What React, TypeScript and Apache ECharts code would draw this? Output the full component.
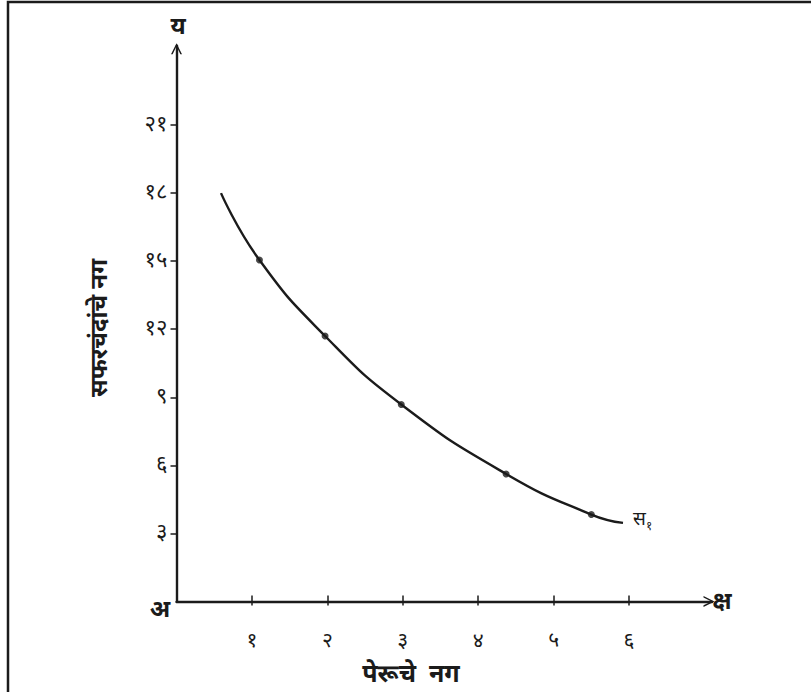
import React, { useEffect, useRef } from "react";
import * as echarts from "echarts";

// Data
const xTickValues = [1, 2, 3, 4, 5, 6];
const yTickValues = [3, 6, 9, 12, 15, 18, 21];
// indifference-curve points (guavas, apples) marked with dots
const pointX = [1.1, 1.97, 2.98, 4.37, 5.5];
const pointY = [15.05, 11.7, 8.68, 5.62, 3.83];
// free ends of the drawn curve
const curveStart = [0.59, 18.0];
const curveEnd = [5.92, 3.46];

const xAxisTitle = "पेरूचे  नग";
const yAxisTitle = "सफरचंदांचे नग";
const originLabel = "अ";
const xArrowLabel = "क्ष";
const yArrowLabel = "य";
const curveLabel = "स";
const curveSub = "१";

const DEV = "०१२३४५६७८९";
const toDev = (v: number | string) =>
  String(v).replace(/[0-9]/g, (d) => DEV[Number(d)]);

const FONT = "'Noto Sans Devanagari', 'Noto Sans', 'DejaVu Sans', sans-serif";
const INK = "#1b1b1b";
const CHEVRON = "path://M0,10 L5,0 L10,10 L8.5,10 L5,2.8 L1.5,10 Z";

export default function App() {
  const ref = useRef<HTMLDivElement>(null);
  useEffect(() => {
    if (!ref.current) return;
    const chart = echarts.init(ref.current, null, { renderer: "svg" });
    const curve = [
      curveStart,
      ...pointX.map((x, i) => [x, pointY[i]]),
      curveEnd,
    ];
    const dots = pointX.map((x, i) => [x, pointY[i]]);
    const axisBase = {
      type: "value" as const,
      min: 0,
      splitLine: { show: false },
    };
    chart.setOption({
      animation: false,
      backgroundColor: "#ffffff",
      grid: { left: 176.5, right: 99, top: 45.7, bottom: 90.6 },
      xAxis: [
        {
          ...axisBase,
          max: 7.1,
          axisLine: {
            show: true,
            onZero: false,
            lineStyle: { color: INK, width: 2.4 },
            symbol: ["none", CHEVRON],
            symbolSize: [13, 11],
            symbolOffset: [0, -3],
          },
          axisTick: {
            show: true,
            length: 4,
            lineStyle: { color: INK, width: 1.5 },
            customValues: xTickValues,
          },
          axisLabel: {
            show: true,
            margin: 30,
            fontSize: 21,
            fontFamily: FONT,
            color: INK,
            customValues: xTickValues,
            formatter: (v: number) => toDev(v),
          },
        },
        {
          ...axisBase,
          max: 7.1,
          position: "bottom",
          axisLine: { show: false },
          axisTick: {
            show: true,
            inside: true,
            length: 6,
            lineStyle: { color: INK, width: 1.5 },
            customValues: xTickValues,
          },
          axisLabel: { show: false },
        },
      ],
      yAxis: {
        ...axisBase,
        max: 24.5,
        axisLine: {
          show: true,
          onZero: false,
          lineStyle: { color: INK, width: 2.4 },
          symbol: ["none", CHEVRON],
          symbolSize: [13, 11],
          symbolOffset: [0, -3],
        },
        axisTick: {
          show: true,
          length: 6,
          lineStyle: { color: INK, width: 1.5 },
          customValues: yTickValues,
        },
        axisLabel: {
          show: true,
          margin: 9,
          fontSize: 22,
          fontFamily: FONT,
          color: INK,
          customValues: yTickValues,
          formatter: (v: number) => toDev(v),
        },
      },
      series: [
        {
          type: "line",
          data: curve,
          smooth: 0.5,
          showSymbol: false,
          lineStyle: { color: INK, width: 2.4 },
          silent: true,
        },
        {
          type: "scatter",
          data: dots,
          symbolSize: 7,
          itemStyle: { color: INK },
          silent: true,
        },
      ],
      graphic: [
        {
          type: "rect",
          shape: { x: 8, y: 2, width: 900, height: 800 },
          style: { fill: "none", stroke: INK, lineWidth: 2.5 },
          silent: true,
        },
        {
          type: "text",
          x: 178,
          y: 28,
          style: {
            text: yArrowLabel,
            font: `bold 24px ${FONT}`,
            fill: INK,
            align: "center",
            verticalAlign: "middle",
          },
        },
        {
          type: "text",
          x: 722,
          y: 603,
          style: {
            text: xArrowLabel,
            font: `bold 24px ${FONT}`,
            fill: INK,
            align: "center",
            verticalAlign: "middle",
          },
        },
        {
          type: "text",
          x: 160,
          y: 611,
          style: {
            text: originLabel,
            font: `bold 24px ${FONT}`,
            fill: INK,
            align: "center",
            verticalAlign: "middle",
          },
        },
        {
          type: "text",
          x: 411,
          y: 676,
          style: {
            text: xAxisTitle,
            font: `bold 25px ${FONT}`,
            fill: INK,
            align: "center",
            verticalAlign: "middle",
          },
        },
        {
          type: "text",
          x: 101,
          y: 328,
          rotation: Math.PI / 2,
          style: {
            text: yAxisTitle,
            font: `bold 24px ${FONT}`,
            fill: INK,
            align: "center",
            verticalAlign: "middle",
          },
        },
        {
          type: "text",
          x: 633,
          y: 520,
          style: {
            text: curveLabel,
            font: `19px ${FONT}`,
            fill: INK,
            align: "left",
            verticalAlign: "middle",
          },
        },
        {
          type: "text",
          x: 646,
          y: 527,
          style: {
            text: curveSub,
            font: `12px ${FONT}`,
            fill: INK,
            align: "left",
            verticalAlign: "middle",
          },
        },
      ],
    });
    return () => chart.dispose();
  }, []);
  return (
    <div
      ref={ref}
      style={{ position: "fixed", left: 0, top: 0, width: 811, height: 692 }}
    />
  );
}
